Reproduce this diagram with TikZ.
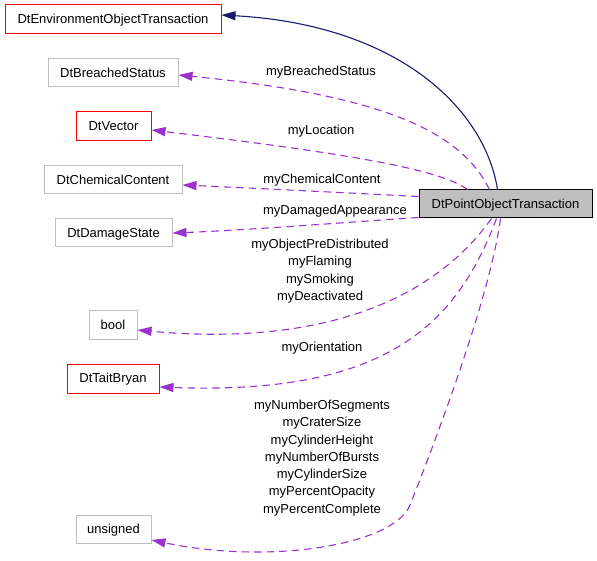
\documentclass[tikz,border=0pt]{standalone}
\usepackage{fontspec}
\setmainfont{Liberation Sans}
\usetikzlibrary{arrows.meta,calc}
\definecolor{edgepurple}{HTML}{9A32CD}
\definecolor{edgenavy}{HTML}{191970}
\definecolor{boxgray}{HTML}{BFBFBF}
\definecolor{boxfill}{HTML}{BFBFBF}
\begin{document}
\begin{tikzpicture}[x=1pt,y=-1pt,
  every node/.style={font=\fontsize{13}{17.3}\selectfont, inner sep=0pt},
  cls/.style={draw, line width=1pt, minimum height=28pt, rectangle, text height=9.3pt, text depth=1pt},
  redbox/.style={cls, draw=red},
  graybox/.style={cls, draw=boxgray},
  mainbox/.style={cls, draw=black, fill=boxfill},
  usage/.style={draw=edgepurple, line width=1.1pt, dash pattern=on 7.5pt off 5pt,
    -{Triangle[length=14pt,width=9pt,fill=edgepurple]}},
  inherit/.style={draw=edgenavy, line width=1.1pt,
    -{Triangle[length=14pt,width=9pt,fill=edgenavy]}},
  lbl/.style={align=center, text=black}
]
\useasboundingbox (0,0) rectangle (597,561);

% nodes
\node[redbox, minimum width=216pt, minimum height=29pt] (E) at (113,19.5) {DtEnvironmentObjectTransaction};
\node[graybox, minimum width=130pt] (B) at (113,73) {DtBreachedStatus};
\node[redbox, minimum width=75pt, minimum height=29pt] (V) at (113.5,126.5) {DtVector};
\node[graybox, minimum width=138pt] (C) at (113,180) {DtChemicalContent};
\node[graybox, minimum width=117pt] (D) at (113.5,233) {DtDamageState};
\node[graybox, minimum width=48pt] (Bo) at (113,325) {bool};
\node[redbox, minimum width=92pt, minimum height=29pt] (T) at (113,378.5) {DtTaitBryan};
\node[graybox, minimum width=75pt] (U) at (113.5,529) {unsigned};
\node[mainbox, minimum width=173pt] (P) at (505.5,204) {DtPointObjectTransaction};

% edges
\draw[inherit] ($(P.north west)+(79,0)$) .. controls (485,110) and (400,25) .. ($(E.east)+(0,-4.5)$);
\draw[usage] ($(P.north west)+(71,0)$) .. controls (460,130) and (380,95) .. ($(B.east)+(0,2)$);
\draw[usage] ($(P.north west)+(49,0)$) .. controls (440,170) and (360,155) .. ($(V.east)+(0,3.5)$);
\draw[usage] ($(P.north west)+(0,7)$) .. controls (350,193) and (250,188) .. ($(C.east)+(0,5)$);
\draw[usage] ($(P.south west)+(0,-1)$) .. controls (350,222) and (250,230) .. (D.east);
\draw[usage] ($(P.south west)+(73,0)$) .. controls (425,312) and (300,345) .. ($(Bo.east)+(0,5)$);
\draw[usage] ($(P.south west)+(78,0)$) .. controls (455,330) and (380,395) .. ($(T.east)+(0,8.5)$);
\coordinate (ubend) at (410,505);
\draw[usage] ($(P.south west)+(82,0)$) .. controls (490,300) and (428,460) .. (ubend)
   .. controls (394,545) and (270,565) .. ($(U.east)+(0,11)$);

% labels
\node[lbl] (l1) at (321,72) {myBreachedStatus};
\node[lbl] (l2) at (321,131) {myLocation};
\node[lbl] (l3) at (322,180) {myChemicalContent};
\node[lbl] (l4) at (335,211) {myDamagedAppearance};
\node[lbl] (l5) at (320,271) {myObjectPreDistributed\\myFlaming\\mySmoking\\myDeactivated};
\node[lbl] (l6) at (322,348) {myOrientation};
\node[lbl] (l7) at (322,458) {myNumberOfSegments\\myCraterSize\\myCylinderHeight\\myNumberOfBursts\\myCylinderSize\\myPercentOpacity\\myPercentComplete};
\end{tikzpicture}
\end{document}
